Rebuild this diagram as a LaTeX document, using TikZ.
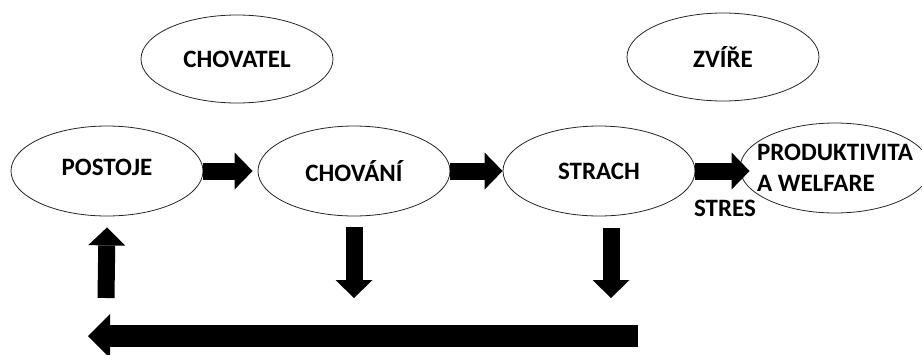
\documentclass[tikz,border=0pt]{standalone}
\usepackage{fontspec}
\setmainfont{Carlito}
\usetikzlibrary{shapes.geometric,arrows.meta}
\begin{document}
\begin{tikzpicture}[x=1pt,y=-1pt,
    oval/.style={ellipse, draw=black!85, line width=0.8pt, inner sep=0pt,
      minimum width=192pt, minimum height=90pt,
      font=\fontsize{25}{31}\selectfont\bfseries},
    blockarrow/.style={line width=17pt, -{Triangle[length=18pt,width=37pt,line width=0pt]}},
    backarrow/.style={line width=22pt, -{Triangle[length=22pt,width=44pt,line width=0pt]}}]

	\useasboundingbox (0,0) rectangle (922,354);

	\node[oval, minimum height=88pt] (chovatel) at (237,59) {CHOVATEL};
	\node[oval, minimum height=88pt] (zvire) at (723,57) {ZVÍŘE};

	\node[oval, text depth=8pt] (postoje) at (107,171) {POSTOJE};
	\node[oval] (chovani) at (354,171) {CHOVÁNÍ};
	\node[oval] (strach) at (599,171) {STRACH};
	\node[oval, align=left, inner xsep=-22pt, minimum width=190pt] (produkt) at (835,168) {PRODUKTIVITA\\A WELFARE};

	\node[font=\fontsize{25}{31}\selectfont\bfseries] (stres) at (725,208) {STRES};

	\coordinate (chovanidown) at (354,298);
	\coordinate (strachtop) at (611,228);
	\coordinate (strachdown) at (611,298);
	\coordinate (postojedown) at (106,298);
	\coordinate (backstart) at (638,336);
	\coordinate (backend) at (88,336);

	\draw[blockarrow] (postoje.east) -- ([xshift=-5pt]chovani.west);
	\draw[blockarrow] (chovani.east) -- (strach.west);
	\draw[blockarrow] (strach.east) -- ([xshift=10pt]produkt.west |- strach.east);

	\draw[blockarrow] ([yshift=-11pt]chovani.south) -- (chovanidown);
	\draw[blockarrow] (strachtop) -- (strachdown);
	\draw[blockarrow] (postojedown) -- ([yshift=-11pt]postoje.south);

	\draw[backarrow] (backstart) -- (backend);
    \end{tikzpicture}
\end{document}
